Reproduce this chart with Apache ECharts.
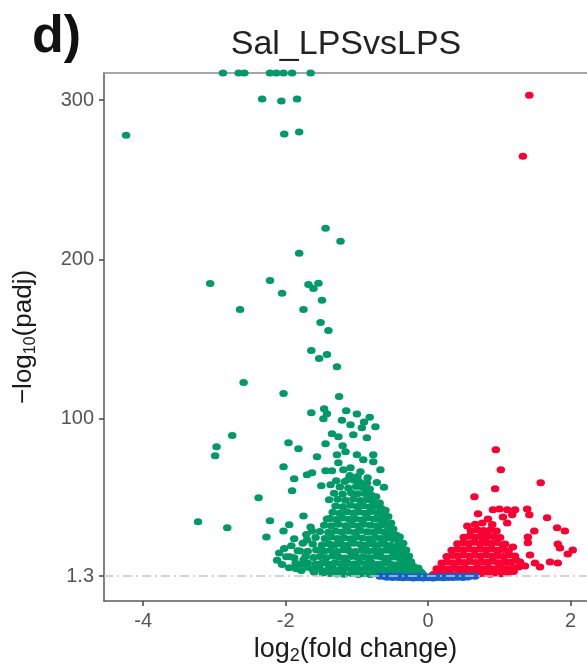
<!DOCTYPE html>
<html>
<head>
<meta charset="utf-8">
<script src="https://cdn.jsdelivr.net/npm/echarts@6/dist/echarts.min.js"></script>
<style>
  html, body { margin: 0; padding: 0; background: #fff; }
  #volcano { width: 587px; height: 667px; }
</style>
</head>
<body>
<div id="volcano"></div>
<script>
  // tick labels
  var xTicks = [-4, -2, 0, 2];
  var yTicks = [1.3, 100, 200, 300];
  var threshold = 1.3;

  // down-regulated (log2FC, -log10 padj)
  var greenPts = [
    // pinned at the top edge
    [-2.88, 317], [-2.66, 317], [-2.58, 317], [-2.22, 317], [-2.13, 317], [-2.03, 317], [-1.91, 317], [-1.65, 317],
    [-2.33, 300.7], [-2.06, 299.4], [-1.84, 300.7], [-4.24, 278], [-2.02, 278.7], [-1.81, 280],
    [-1.44, 219.5], [-1.23, 211.4], [-1.81, 203.8], [-3.06, 184.9], [-2.22, 186.8], [-1.68, 184.3],
    [-1.61, 181.8], [-1.54, 185], [-2.05, 178.7], [-1.49, 174.3], [-2.64, 168.6], [-1.75, 168.6],
    [-1.51, 160.4], [-1.40, 155.4], [-1.64, 142.8], [-1.53, 137.8], [-1.42, 140.3], [-1.28, 132.7],
    [-1.25, 113.9], [-2.59, 122.7], [-2.03, 115.8], [-1.64, 103.8], [-1.46, 106.3], [-1.42, 103.2],
    [-1.47, 100], [-2.75, 89.4], [-1.96, 85], [-1.44, 84.3], [-1.35, 90.6], [-1.26, 88.7],
    [-2.97, 82.4], [-2.99, 76.8], [-1.82, 81.2], [-1.56, 76.2], [-1.28, 77.4], [-2.03, 69.9],
    [-1.44, 67.3], [-1.35, 67.3], [-1.70, 64.8], [-1.63, 66.1], [-1.88, 62.3], [-1.50, 57.9],
    [-1.37, 58.5], [-1.91, 54.8], [-2.38, 50.4], [-1.39, 49.1], [-3.23, 35.3], [-2.82, 31.5],
    [-2.22, 35.9], [-1.95, 33.4], [-2.03, 29.6], [-1.75, 39], [-1.65, 32.1], [-1.63, 29.6],
    [-2.27, 25.8], [-1.42, 37.1], [-1.70, 23.9], [-2.09, 15.8], [-1.80, 17], [-1.94, 13.3],
    [-1.75, 11.4], [-1.51, 17.7],
    [-1.09, 96.3], [-0.93, 94.4], [-0.74, 95], [-0.86, 88.1], [-1.05, 90], [-1.16, 79.3],
    [-1.00, 77.4], [-0.91, 74.3], [-0.77, 77.4], [-0.67, 68], [-0.77, 73], [-1.26, 72.4],
    [-1.19, 68], [-1.09, 69.2], [-0.95, 66.7], [-1.15, 105], [-1.00, 103], [-0.82, 101],
    [-1.21, 99], [-0.90, 98], [-1.20, 83], [-1.12, 62], [-0.85, 63], [-0.72, 60], [-0.62, 57],
    [-2.05, 8.5], [-1.95, 6.5], [-1.78, 4.8], [-2.12, 11.2],
    [-2.02, 18.5], [-1.92, 20.3], [-1.76, 21.8], [-1.88, 24.6], [-1.71, 27.4], [-1.60, 3.6],
    [-1.48, 3.1], [-1.38, 2.8], [-1.28, 2.6], [-1.85, 5.9], [-1.69, 6.8],
    // dense body
    [-1.18, 2.4], [-1.07, 2.9], [-0.98, 2.2], [-0.89, 2.7], [-0.81, 2.3], [-0.72, 2.8], [-0.64, 2.1],
    [-0.55, 2.5], [-0.47, 2.0], [-0.38, 2.6], [-0.30, 1.9], [-0.22, 2.4], [-0.14, 1.8], [-0.07, 2.2],
    [-1.62, 5.3], [-1.52, 5.9], [-1.41, 5.1], [-1.33, 5.7], [-1.24, 5.4], [-1.16, 6.1], [-1.07, 5.2],
    [-0.99, 5.8], [-0.90, 5.5], [-0.82, 6.2], [-0.74, 5.3], [-0.66, 5.9], [-0.57, 5.1], [-0.49, 5.6],
    [-0.41, 4.9], [-0.33, 5.4], [-0.25, 4.6], [-0.17, 4.2], [-0.10, 3.8],
    [-1.86, 9.3], [-1.77, 8.6], [-1.69, 9.5], [-1.58, 8.8], [-1.49, 9.4], [-1.40, 8.7], [-1.31, 9.6],
    [-1.22, 9.0], [-1.13, 9.5], [-1.05, 8.8], [-0.96, 9.7], [-0.87, 9.1], [-0.79, 9.4], [-0.70, 8.7],
    [-0.61, 9.3], [-0.53, 8.9], [-0.45, 8.4], [-0.37, 8.8], [-0.29, 7.9], [-0.21, 7.4], [-0.14, 6.3],
    [-1.99, 13.4], [-1.88, 12.8], [-1.72, 13.7], [-1.61, 12.9], [-1.52, 13.5], [-1.43, 12.7],
    [-1.34, 13.8], [-1.25, 13.1], [-1.17, 12.6], [-1.08, 13.6], [-0.99, 12.9], [-0.91, 13.4],
    [-0.82, 12.8], [-0.73, 13.7], [-0.65, 13.0], [-0.56, 12.6], [-0.48, 13.2], [-0.40, 12.4],
    [-0.31, 11.5], [-0.24, 10.3],
    [-1.83, 17.2], [-1.69, 16.8], [-1.57, 17.6], [-1.46, 16.9], [-1.37, 17.4], [-1.28, 16.6],
    [-1.19, 17.8], [-1.11, 17.1], [-1.02, 16.7], [-0.93, 17.5], [-0.84, 16.8], [-0.76, 17.3],
    [-0.67, 16.9], [-0.59, 17.4], [-0.50, 16.5], [-0.42, 16.2], [-0.34, 15.1], [-0.27, 13.9],
    [-1.62, 21.3], [-1.49, 20.7], [-1.39, 21.6], [-1.31, 20.9], [-1.22, 21.4], [-1.13, 20.6],
    [-1.04, 21.8], [-0.95, 21.1], [-0.87, 20.8], [-0.78, 21.5], [-0.70, 20.9], [-0.61, 21.2],
    [-0.53, 20.4], [-0.45, 19.8], [-0.37, 18.9], [-0.31, 17.6],
    [-1.58, 25.4], [-1.45, 24.8], [-1.36, 25.7], [-1.27, 24.9], [-1.18, 25.3], [-1.09, 24.6],
    [-1.00, 25.8], [-0.92, 25.1], [-0.83, 24.7], [-0.74, 25.5], [-0.66, 24.9], [-0.58, 25.2],
    [-0.49, 24.3], [-0.41, 23.2], [-0.35, 21.9],
    [-1.52, 29.3], [-1.40, 28.7], [-1.30, 29.6], [-1.21, 28.9], [-1.12, 29.4], [-1.03, 28.6],
    [-0.95, 29.8], [-0.86, 29.1], [-0.77, 28.8], [-0.69, 29.5], [-0.61, 28.7], [-0.52, 28.2],
    [-0.45, 27.1], [-0.40, 25.9],
    [-1.46, 33.2], [-1.36, 32.8], [-1.26, 33.7], [-1.16, 32.9], [-1.07, 33.4], [-0.98, 32.6],
    [-0.90, 33.8], [-0.81, 33.1], [-0.72, 32.7], [-0.64, 33.3], [-0.56, 32.1], [-0.49, 30.8],
    [-1.38, 37.4], [-1.29, 36.8], [-1.20, 37.7], [-1.11, 36.9], [-1.02, 37.3], [-0.93, 36.6],
    [-0.85, 37.8], [-0.76, 37.1], [-0.68, 36.7], [-0.60, 35.8], [-0.52, 34.6],
    [-1.34, 41.3], [-1.24, 40.7], [-1.14, 41.6], [-1.05, 40.9], [-0.97, 41.4], [-0.88, 40.6],
    [-0.80, 41.8], [-0.71, 40.8], [-0.63, 39.9], [-0.56, 38.6],
    [-1.30, 45.2], [-1.20, 44.8], [-1.09, 45.7], [-1.00, 44.9], [-0.91, 45.4], [-0.82, 44.6],
    [-0.74, 45.1], [-0.66, 43.8], [-0.60, 42.5],
    [-1.27, 49.4], [-1.16, 48.8], [-1.05, 49.6], [-0.95, 48.7], [-0.86, 49.3], [-0.78, 48.2],
    [-0.68, 47.1],
    [-1.32, 53.3], [-1.20, 52.7], [-1.08, 53.6], [-0.99, 52.9], [-0.89, 53.1], [-0.80, 52.2],
    [-0.73, 51.0],
    [-1.24, 57.2], [-1.12, 56.6], [-1.01, 57.5], [-0.92, 56.8], [-0.82, 55.9],
    [-1.29, 61.1], [-1.17, 60.6], [-1.04, 61.4], [-0.96, 60.2], [-0.86, 59.7],
    [-1.10, 64.3], [-0.99, 63.8]
  ];

  // up-regulated
  var redPts = [
    [1.42, 303], [1.33, 264.8],
    [0.95, 80.5], [1.02, 68], [1.58, 59.8], [0.94, 56], [0.65, 51], [0.91, 42.8], [1.00, 43.4],
    [1.11, 42.8], [1.22, 42.8], [1.39, 43.4], [0.70, 40.3], [0.84, 37.1], [1.05, 38.4], [1.18, 39.7],
    [1.42, 39.7], [1.67, 37.8], [1.11, 34.6], [0.55, 32.7], [1.81, 31.5], [1.92, 29.6], [1.49, 29.6],
    [0.83, 28.3], [1.40, 25.8], [0.77, 24], [1.82, 21.4], [1.40, 22.1], [1.19, 19.5], [1.05, 20.8],
    [1.85, 18.9], [1.96, 15.1], [1.43, 14.5], [1.71, 10.1], [1.82, 9.5], [1.57, 7], [1.50, 9.5],
    [1.29, 10.1], [2.03, 17.6],
    [0.07, 2.2], [0.15, 2.7], [0.23, 2.4], [0.31, 2.9], [0.39, 2.3], [0.47, 2.8], [0.55, 2.5],
    [0.63, 3.0], [0.71, 2.6], [0.79, 2.9], [0.87, 2.4], [0.95, 3.1], [1.03, 2.7], [1.12, 3.4], [1.20, 4.1],
    [0.12, 5.8], [0.20, 6.3], [0.29, 5.7], [0.37, 6.4], [0.45, 5.9], [0.53, 6.2], [0.61, 5.6],
    [0.69, 6.5], [0.77, 5.9], [0.85, 6.3], [0.94, 5.8], [1.02, 6.4], [1.10, 6.0], [1.19, 6.6],
    [1.27, 6.9], [1.36, 7.6],
    [0.19, 9.4], [0.27, 10.1], [0.35, 9.6], [0.43, 10.3], [0.51, 9.8], [0.59, 10.4], [0.67, 9.7],
    [0.75, 10.2], [0.83, 9.9], [0.91, 10.5], [0.99, 9.6], [1.08, 10.3], [1.16, 9.9], [1.24, 11.2],
    [0.26, 13.6], [0.34, 14.2], [0.42, 13.8], [0.50, 14.4], [0.58, 13.7], [0.66, 14.3], [0.74, 13.9],
    [0.82, 14.5], [0.90, 13.8], [0.98, 14.1], [1.06, 13.6], [1.14, 14.4], [1.22, 13.9],
    [0.33, 17.4], [0.41, 18.1], [0.49, 17.7], [0.57, 18.3], [0.65, 17.6], [0.73, 18.2], [0.81, 17.8],
    [0.89, 18.4], [0.97, 17.5], [1.05, 17.9], [1.13, 17.2],
    [0.41, 21.5], [0.49, 22.1], [0.57, 21.7], [0.65, 22.4], [0.73, 21.6], [0.81, 22.2], [0.89, 21.8],
    [0.97, 22.3], [1.08, 21.4],
    [0.50, 25.6], [0.58, 26.2], [0.66, 25.8], [0.74, 26.4], [0.82, 25.7], [0.92, 26.1], [1.01, 25.5],
    [0.60, 29.7], [0.69, 30.3], [0.78, 29.8], [0.88, 30.4], [0.96, 29.6],
    [0.66, 33.8], [0.76, 34.5], [0.90, 33.6]
  ];

  // not significant
  var bluePts = [
    [-0.68, 1.1], [-0.61, 1.0], [-0.54, 1.2], [-0.47, 0.9], [-0.40, 1.1], [-0.33, 0.8], [-0.26, 1.0],
    [-0.19, 0.7], [-0.12, 0.9], [-0.05, 0.6], [0.02, 0.8], [0.09, 0.7], [0.16, 1.0], [0.23, 0.8],
    [0.30, 1.1], [0.37, 0.9], [0.44, 1.2], [0.51, 1.0], [0.58, 1.1], [0.66, 1.2],
    [-0.58, 0.5], [-0.50, 0.3], [-0.42, 0.4], [-0.35, 0.2], [-0.28, 0.3], [-0.21, 0.1], [-0.14, 0.2],
    [-0.07, 0.1], [0.00, 0.2], [0.07, 0.1], [0.14, 0.3], [0.21, 0.2], [0.28, 0.4], [0.35, 0.3],
    [0.42, 0.5], [0.49, 0.4], [0.56, 0.6]
  ];

  var chart = echarts.init(document.getElementById('volcano'));
  var font = 'Liberation Sans, Arial, sans-serif';
  var dot = [8.5, 7];
  var xMin = -4.55, xMax = 2.23;

  var option = {
    animation: false,
    backgroundColor: '#fff',
    graphic: [
      { type: 'text', left: 32, top: 12, style: { text: 'd)', font: 'bold 52px ' + font, fill: '#111' } },
      { type: 'text', x: 346, y: 28, style: { text: 'Sal_LPSvsLPS', font: '34px ' + font, fill: '#222', textAlign: 'center' } }
    ],
    grid: {
      left: 104, top: 73, right: 0, bottom: 66,
      outerBoundsMode: 'none', containLabel: false
    },
    xAxis: [{
      type: 'value', min: xMin, max: xMax,
      name: '{a|log}{s|2}{a|(fold change)}',
      nameLocation: 'middle', nameGap: 27,
      nameTextStyle: {
        padding: [0, 0, 0, 20],
        rich: {
          a: { fontSize: 27, fontFamily: font, color: '#1a1a1a', lineHeight: 32 },
          s: { fontSize: 18, fontFamily: font, color: '#1a1a1a', lineHeight: 10, verticalAlign: 'bottom' }
        }
      },
      splitLine: { show: false },
      axisLine: { onZero: false, lineStyle: { color: '#5a5a5a', width: 1.5 } },
      axisTick: { customValues: xTicks, length: 5, lineStyle: { color: '#444', width: 1.5 } },
      axisLabel: { customValues: xTicks, fontSize: 20, fontFamily: font, color: '#555', margin: 10 }
    }, {
      // top border of the panel
      type: 'value', min: xMin, max: xMax, position: 'top',
      splitLine: { show: false }, axisTick: { show: false }, axisLabel: { show: false },
      axisLine: { show: true, onZero: false, lineStyle: { color: '#8a8a8a', width: 1.5 } }
    }],
    yAxis: {
      type: 'value', min: -14.4, max: 317,
      name: '{a|−log}{s|10}{a|(padj)}',
      nameLocation: 'middle', nameGap: 65, nameRotate: 90,
      nameTextStyle: {
        rich: {
          a: { fontSize: 26, fontFamily: font, color: '#1a1a1a', lineHeight: 30 },
          s: { fontSize: 16, fontFamily: font, color: '#1a1a1a', lineHeight: 8, verticalAlign: 'bottom' }
        }
      },
      splitLine: { show: false },
      axisLine: { show: true, onZero: false, lineStyle: { color: '#5a5a5a', width: 1.5 } },
      axisTick: { show: true, customValues: yTicks, length: 5, lineStyle: { color: '#444', width: 1.5 } },
      axisLabel: {
        customValues: yTicks, fontSize: 20, fontFamily: font, color: '#555', margin: 10,
        formatter: function (v) { return v === threshold ? '1.3' : String(Math.round(v)); }
      }
    },
    series: [
      { type: 'scatter', data: greenPts, symbolSize: dot, itemStyle: { color: '#009a66', opacity: 1 }, clip: true },
      { type: 'scatter', data: redPts, symbolSize: dot, itemStyle: { color: '#fb0032', opacity: 1 }, clip: true },
      { type: 'scatter', data: bluePts, symbolSize: dot, itemStyle: { color: '#1560cf', opacity: 1 }, clip: true },
      {
        type: 'scatter', data: [], z: 10,
        markLine: {
          silent: true, symbol: 'none', label: { show: false },
          lineStyle: { color: '#c6c6c6', width: 1.5, type: [9, 4, 2, 4] },
          data: [{ yAxis: threshold }]
        }
      }
    ]
  };

  chart.setOption(option);
</script>
</body>
</html>
